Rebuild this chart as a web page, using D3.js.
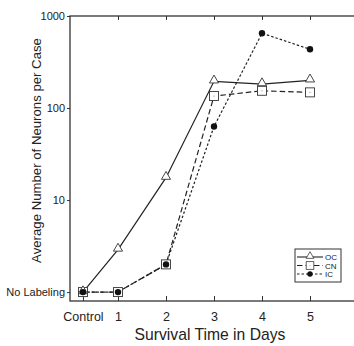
<!DOCTYPE html>
<html>
<head>
<meta charset="utf-8">
<script src="https://cdn.jsdelivr.net/npm/d3@7"></script>
<style>
  body { margin: 0; background: #fff; }
  text { font-family: Arial, "Liberation Sans", sans-serif; fill: #222; }
</style>
</head>
<body>
<div id="chart"></div>
<script>

// x positions: Control sits a bit left of day 1
var days = ["Control", "1", "2", "3", "4", "5"];
var dayPos = [0.27, 1, 2, 3, 4, 5];

// values, 1 = "No Labeling"
var ocValues = [1, 2.9, 17.5, 195, 182, 200];
var cnValues = [1, 1, 2, 135, 154, 148];
var icValues = [1, 1, 2, 63, 650, 435];

var yTickVals = [1, 10, 100, 1000];
var yTickLabels = ["No Labeling", "10", "100", "1000"];

var series = [
  { name: "OC", values: ocValues, dash: null, marker: "triangle" },
  { name: "CN", values: cnValues, dash: "5.5,3", marker: "square" },
  { name: "IC", values: icValues, dash: "2.5,2", marker: "circle" }
];

var W = 354, H = 346;
var margin = {top: 16, right: -4, bottom: 45, left: 70},
    width = W - margin.left - margin.right,
    height = H - margin.top - margin.bottom;

var svg = d3.select("#chart")
  .append("svg")
    .attr("width", W)
    .attr("height", H)
  .append("g")
    .attr("transform", "translate(" + margin.left + "," + margin.top + ")");

var x = d3.scaleLinear().domain([0, 6]).range([0, width]);
var y = d3.scaleLog().domain([0.8, 1000]).range([height, 0]);

// frame
svg.append("rect")
  .attr("width", width).attr("height", height)
  .attr("fill", "none").attr("stroke", "#333").attr("stroke-width", 1.3);

// bottom ticks (inward) + labels
svg.append("g")
  .attr("transform", "translate(0," + height + ")")
  .call(d3.axisBottom(x).tickValues(dayPos).tickSizeInner(-5).tickSizeOuter(0)
    .tickPadding(11).tickFormat(function(d, i) { return days[i]; }))
  .call(function(g) {
    g.select(".domain").remove();
    g.selectAll("line").attr("stroke", "#333");
    g.selectAll("text").attr("font-size", 12.5).attr("fill", "#222");
  });

// top ticks
svg.append("g")
  .call(d3.axisTop(x).tickValues([1, 2, 3, 4, 5]).tickSizeInner(-4).tickSizeOuter(0).tickFormat(""))
  .call(function(g) {
    g.select(".domain").remove();
    g.selectAll("line").attr("stroke", "#333");
  });

// left axis
svg.append("g")
  .call(d3.axisLeft(y).tickValues(yTickVals).tickSizeInner(3).tickSizeOuter(0)
    .tickPadding(2).tickFormat(function(d, i) { return yTickLabels[i]; }))
  .call(function(g) {
    g.select(".domain").remove();
    g.selectAll("line").attr("stroke", "#333");
    g.selectAll("text").attr("font-size", 11).attr("fill", "#222");
  });

// right ticks
svg.append("g")
  .attr("transform", "translate(" + width + ",0)")
  .call(d3.axisRight(y).tickValues(yTickVals).tickSizeInner(-4).tickSizeOuter(0).tickFormat(""))
  .call(function(g) {
    g.select(".domain").remove();
    g.selectAll("line").attr("stroke", "#333");
  });

// axis titles
svg.append("text")
  .attr("x", width / 2 - 4).attr("y", height + 39)
  .attr("text-anchor", "middle").attr("font-size", 15.7)
  .text("Survival Time in Days");

svg.append("text")
  .attr("transform", "translate(-29," + (height / 2 - 8) + ") rotate(-90)")
  .attr("text-anchor", "middle").attr("font-size", 13.2)
  .text("Average Number of Neurons per Case");

var line = d3.line()
  .x(function(d) { return x(d.x); })
  .y(function(d) { return y(d.v); });

function drawMarker(g, type, cx, cy) {
  if (type === "triangle") {
    g.append("path")
      .attr("d", d3.symbol().type(d3.symbolTriangle).size(36)())
      .attr("transform", "translate(" + cx + "," + (cy - 1) + ")")
      .attr("fill", "#fff").attr("stroke", "#333").attr("stroke-width", 0.9);
  } else if (type === "square") {
    g.append("rect")
      .attr("x", cx - 4.5).attr("y", cy - 4.5).attr("width", 9).attr("height", 9)
      .attr("fill", "#fff").attr("stroke", "#333").attr("stroke-width", 0.9);
    g.append("circle").attr("cx", cx).attr("cy", cy).attr("r", 0.5).attr("fill", "#666");
  } else {
    g.append("circle").attr("cx", cx).attr("cy", cy).attr("r", 3.2).attr("fill", "#111");
  }
}

series.forEach(function(s) {
  var pts = s.values.map(function(v, i) { return { x: dayPos[i], v: v }; });
  svg.append("path")
    .datum(pts)
    .attr("d", line)
    .attr("fill", "none")
    .attr("stroke", "#222")
    .attr("stroke-width", 1.2)
    .attr("stroke-dasharray", s.dash);
});

// markers: squares first, then triangles, circles on top
["square", "triangle", "circle"].forEach(function(m) {
  series.filter(function(s) { return s.marker === m; }).forEach(function(s) {
    var g = svg.append("g");
    s.values.forEach(function(v, i) { drawMarker(g, m, x(dayPos[i]), y(v)); });
  });
});

// legend
var lg = svg.append("g").attr("transform", "translate(" + (width - 63) + "," + (height - 52) + ")");
lg.append("rect").attr("width", 46).attr("height", 33)
  .attr("fill", "#fff").attr("stroke", "#333").attr("stroke-width", 1);
series.forEach(function(s, i) {
  var yy = 8 + i * 8.5;
  lg.append("line").attr("x1", 2).attr("x2", 28).attr("y1", yy).attr("y2", yy)
    .attr("stroke", "#222").attr("stroke-width", 1.1).attr("stroke-dasharray", s.dash);
  var mg = lg.append("g").attr("transform", "translate(15," + yy + ") scale(0.85)");
  drawMarker(mg, s.marker, 0, 0);
  lg.append("text").attr("x", 30).attr("y", yy + 3).attr("font-size", 8).text(s.name);
});

</script>
</body>
</html>
